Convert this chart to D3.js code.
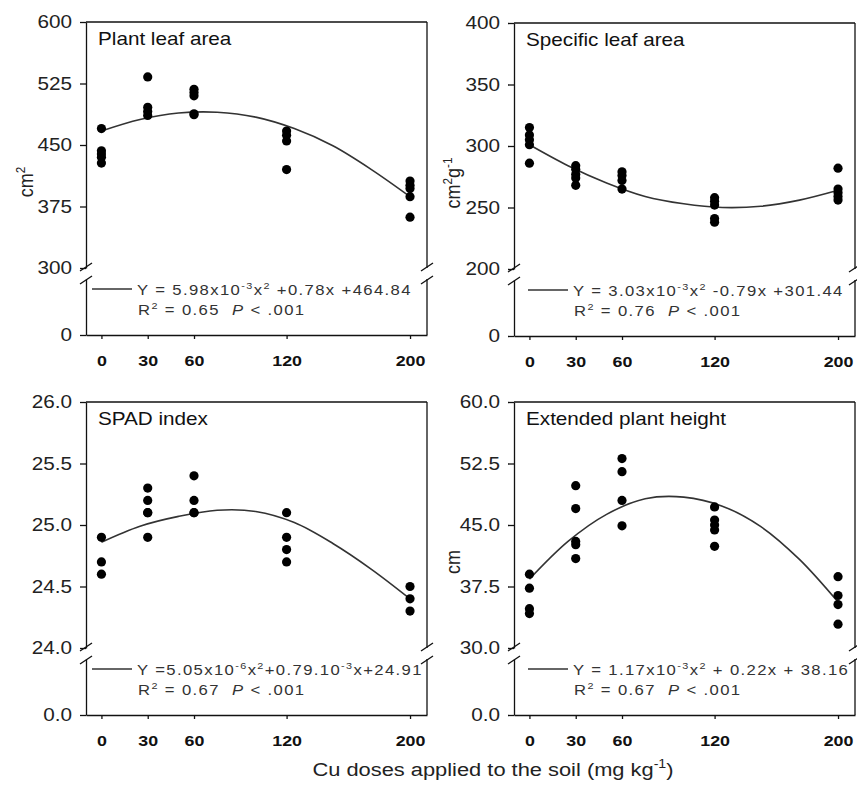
<html>
<head>
<title>Cu doses and leaf traits</title>
<script src="https://d3js.org/d3.v7.min.js"></script>
<style>
body { margin: 0; background: #fff; }
svg { display: block; font-family: 'Liberation Sans', Arial, sans-serif; }
.axis path, .axis line { stroke: #111; stroke-width: 1.3; }
.frame { stroke: #111; stroke-width: 1.3; }
.ylab text { font-size: 18.5px; fill: #222; }
.xlab text { font-size: 15.5px; font-weight: bold; fill: #111; }
.fit { fill: none; stroke: #333; stroke-width: 1.6; }
.eq { font-size: 14.5px; fill: #333; letter-spacing: 1.2px; white-space: pre; }
</style>
</head>
<body>
<svg height="785" width="857"></svg>

<script>
var doses = [0, 30, 60, 120, 200];
var fitDoses = [0, 25, 50, 75, 100, 125, 150, 175, 200];

// plant leaf area, cm2
var leafAreaPoints = [[0,470],[0,443],[0,439],[0,435],[0,428],
  [30,533],[30,496],[30,491],[30,486],
  [60,518],[60,514],[60,510],[60,488],[60,487],
  [120,467],[120,462],[120,455],[120,420],
  [200,406],[200,401],[200,397],[200,387],[200,362]];
var leafAreaFit = [467, 481, 489, 490, 484, 470, 449, 420, 387];
var leafAreaTicks = [300, 375, 450, 525, 600];

// specific leaf area, cm2 g-1
var slaPoints = [[0,315],[0,309],[0,305],[0,301],[0,286],
  [30,284],[30,281],[30,277],[30,274],[30,268],
  [60,279],[60,276],[60,272],[60,265],
  [120,258],[120,255],[120,252],[120,241],[120,238],
  [200,282],[200,265],[200,262],[200,259],[200,256]];
var slaFit = [301, 284, 270, 259, 253, 250, 251, 256, 264];
var slaTicks = [200, 250, 300, 350, 400];

// SPAD index
var spadPoints = [[0,24.9],[0,24.7],[0,24.6],
  [30,25.3],[30,25.2],[30,25.1],[30,25.1],[30,24.9],
  [60,25.4],[60,25.2],[60,25.1],[60,25.1],
  [120,25.1],[120,24.9],[120,24.8],[120,24.7],
  [200,24.5],[200,24.4],[200,24.3]];
var spadFit = [24.86, 24.99, 25.07, 25.12, 25.11, 25.02, 24.85, 24.64, 24.40];
var spadTicks = [24.0, 24.5, 25.0, 25.5, 26.0];

// extended plant height, cm
var heightPoints = [[0,39.0],[0,37.3],[0,34.8],[0,34.2],
  [30,49.8],[30,47.0],[30,43.0],[30,42.6],[30,40.9],
  [60,53.1],[60,51.5],[60,48.0],[60,44.9],
  [120,47.2],[120,45.6],[120,45.0],[120,44.4],[120,42.4],
  [200,38.7],[200,36.4],[200,35.3],[200,32.9]];
var heightFit = [38.4, 43.0, 46.3, 48.2, 48.4, 47.3, 44.8, 40.8, 35.6];
var heightTicks = [30.0, 37.5, 45.0, 52.5, 60.0];

// equation texts: even items normal, odd items superscript
var leafAreaEq = ["Y = 5.98x10", "-3", "x", "2", " +0.78x +464.84"];
var slaEq = ["Y = 3.03x10", "-3", "x", "2", " -0.79x +301.44"];
var spadEq = ["Y =5.05x10", "-6", "x", "2", "+0.79.10", "-3", "x+24.91"];
var heightEq = ["Y = 1.17x10", "-3", "x", "2", " + 0.22x + 38.16"];
var r2Values = ["0.65", "0.76", "0.67", "0.67"];

var svg = d3.select("svg");
var stretch = 1.15;

var panels = [
  {title: "Plant leaf area", pts: leafAreaPoints, fit: leafAreaFit, ticks: leafAreaTicks, fmt: d3.format("d"),
   eq: leafAreaEq, r2: r2Values[0], ylabel: ["cm", "2"], left: 86, top: 22, lx: 6},
  {title: "Specific leaf area", pts: slaPoints, fit: slaFit, ticks: slaTicks, fmt: d3.format("d"),
   eq: slaEq, r2: r2Values[1], ylabel: ["cm", "2", "g", "-1"], left: 514, top: 23, lx: 14},
  {title: "SPAD index", pts: spadPoints, fit: spadFit, ticks: spadTicks, fmt: d3.format(".1f"),
   eq: spadEq, r2: r2Values[2], ylabel: null, left: 86, top: 402, lx: 6},
  {title: "Extended plant height", pts: heightPoints, fit: heightFit, ticks: heightTicks, fmt: d3.format(".1f"),
   eq: heightEq, r2: r2Values[3], ylabel: ["cm"], left: 514, top: 402, lx: 14}
];

function richText(sel, parts, size) {
  var lift = size * 0.4;
  parts.forEach(function (p, i) {
    var sup = i % 2 === 1;
    sel.append("tspan")
      .attr("font-size", sup ? size * 0.65 : size)
      .attr("dy", sup ? -lift : (i > 0 ? lift : 0))
      .text(p);
  });
}

function drawPanel(p) {
  var W = 341, H = 313, upH = 246, lowTop = 257;
  var L = p.left, T = p.top, B = T + H, R = L + W;
  var yMin = p.ticks[0], yMax = p.ticks[p.ticks.length - 1];

  var x = d3.scaleLinear().domain([-10, 211]).range([L, R]);
  var yUp = d3.scaleLinear().domain([yMin, yMax]).range([T + upH, T]);
  var yLow = d3.scaleLinear().domain([0, yMin]).range([B, T + lowTop]);

  var g = svg.append("g");

  // frame: top line and right side with break
  g.append("line").attr("class", "frame").attr("x1", L).attr("x2", R).attr("y1", T).attr("y2", T);
  g.append("line").attr("class", "frame").attr("x1", R).attr("x2", R).attr("y1", T).attr("y2", T + upH);
  g.append("line").attr("class", "frame").attr("x1", R).attr("x2", R).attr("y1", T + lowTop).attr("y2", B);

  g.append("g").attr("class", "axis ylab").attr("transform", "translate(" + L + ",0)")
    .call(d3.axisLeft(yUp).tickValues(p.ticks).tickFormat(p.fmt).tickSize(6).tickPadding(6.5).tickSizeOuter(0));
  g.append("g").attr("class", "axis ylab").attr("transform", "translate(" + L + ",0)")
    .call(d3.axisLeft(yLow).tickValues([0]).tickFormat(p.fmt).tickSize(6).tickPadding(6.5).tickSizeOuter(0));
  g.selectAll(".ylab text").attr("transform", "scale(1.12,1)");

  var xAxis = g.append("g").attr("class", "axis xlab").attr("transform", "translate(0," + B + ")")
    .call(d3.axisBottom(x).tickValues(doses).tickSize(4).tickPadding(16).tickSizeOuter(0));
  xAxis.selectAll("text").attr("transform", "scale(" + stretch + ",1)");

  // axis break marks
  [L, R].forEach(function (bx) {
    [T + upH - 1, T + lowTop + 1].forEach(function (by) {
      g.append("line").attr("class", "frame")
        .attr("x1", bx - 6).attr("y1", by + 4).attr("x2", bx + 6).attr("y2", by - 4);
    });
  });

  var line = d3.line()
    .x(function (d, i) { return x(fitDoses[i]); })
    .y(function (d) { return yUp(d); })
    .curve(d3.curveCatmullRom);
  g.append("path").attr("class", "fit").attr("d", line(p.fit));

  g.selectAll("circle").data(p.pts).enter().append("circle")
    .attr("cx", function (d) { return x(d[0]); })
    .attr("cy", function (d) { return yUp(d[1]); })
    .attr("r", 4.6)
    .attr("fill", "#000");

  g.append("text")
    .attr("transform", "translate(" + (L + 12) + "," + (T + 23) + ") scale(" + stretch + ",1)")
    .attr("font-size", 18).attr("fill", "#111")
    .text(p.title);

  // regression legend
  g.append("line").attr("x1", L + p.lx).attr("x2", L + p.lx + 40)
    .attr("y1", T + 267).attr("y2", T + 267)
    .attr("stroke", "#333").attr("stroke-width", 1.4);
  var eq = g.append("text").attr("class", "eq")
    .attr("transform", "translate(" + (L + p.lx + 45) + "," + (T + 273) + ") scale(" + stretch + ",1)");
  richText(eq, p.eq, 14.5);
  var r2 = g.append("text").attr("class", "eq")
    .attr("transform", "translate(" + (L + p.lx + 46) + "," + (T + 293) + ") scale(" + stretch + ",1)");
  richText(r2, ["R", "2", " = " + p.r2 + "  "], 14.5);
  r2.append("tspan").attr("font-style", "italic").text("P");
  r2.append("tspan").text(" < .001");

  if (p.ylabel) {
    var lx = L < 200 ? 33 : 460;
    var yl = g.append("text")
      .attr("transform", "translate(" + lx + "," + (T + upH / 2 + 37) + ") rotate(-90) scale(1," + stretch + ")")
      .attr("text-anchor", "middle").attr("font-size", 18).attr("fill", "#222");
    richText(yl, p.ylabel, 18);
  }
}

panels.forEach(drawPanel);

var xl = svg.append("text")
  .attr("transform", "translate(493,776) scale(" + stretch + ",1)")
  .attr("text-anchor", "middle").attr("font-size", 19).attr("fill", "#222");
richText(xl, ["Cu doses applied to the soil (mg kg", "-1", ")"], 19);
</script>
</body>
</html>
